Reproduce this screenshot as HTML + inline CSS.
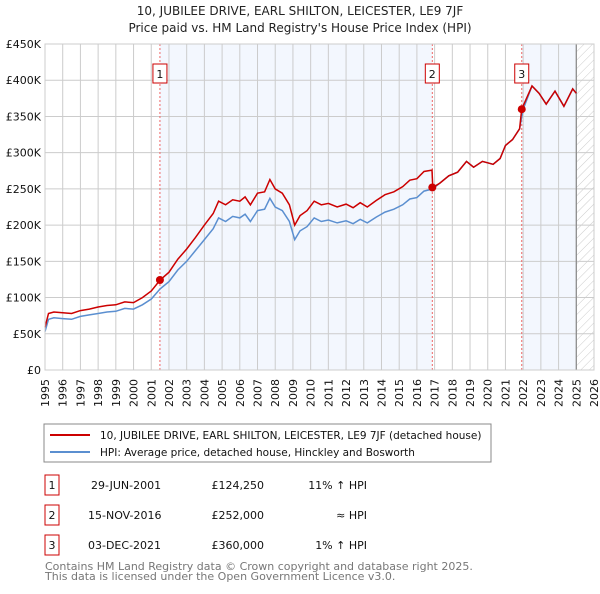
<!DOCTYPE html>
<html><head><meta charset="utf-8"><style>
body{margin:0;background:#fff;font-family:"DejaVu Sans","Liberation Sans",sans-serif;}
svg text{font-family:"DejaVu Sans","Liberation Sans",sans-serif;}
</style></head><body>
<svg id="chart" width="600" height="590" xmlns="http://www.w3.org/2000/svg">
<defs><pattern id="hatch" width="6" height="6" patternUnits="userSpaceOnUse" patternTransform="rotate(45)"><line x1="0" y1="0" x2="0" y2="6" stroke="#ccc" stroke-width="1"/></pattern></defs>
<text x="300" y="15" text-anchor="middle" font-size="12" fill="#222">10, JUBILEE DRIVE, EARL SHILTON, LEICESTER, LE9 7JF</text>
<text x="300" y="32" text-anchor="middle" font-size="12" fill="#222">Price paid vs. HM Land Registry's House Price Index (HPI)</text>
<g id="plot"></g>
<rect x="44" y="424" width="447" height="38" fill="none" stroke="#888"/>
<line x1="50" y1="435" x2="90" y2="435" stroke="#cc0000" stroke-width="2"/>
<text x="100" y="439" font-size="10.5" fill="#111">10, JUBILEE DRIVE, EARL SHILTON, LEICESTER, LE9 7JF (detached house)</text>
<line x1="50" y1="452" x2="90" y2="452" stroke="#5b8fd0" stroke-width="2"/>
<text x="100" y="456" font-size="10.5" fill="#111">HPI: Average price, detached house, Hinckley and Bosworth</text>
<g font-size="11" fill="#111">
<rect x="45" y="475" width="14" height="20" fill="none" stroke="#c00"/><text x="52" y="489" text-anchor="middle">1</text>
<text x="91" y="489">29-JUN-2001</text><text x="264" y="489" text-anchor="end">£124,250</text><text x="367" y="489" text-anchor="end">11% ↑ HPI</text>
<rect x="45" y="505" width="14" height="20" fill="none" stroke="#c00"/><text x="52" y="519" text-anchor="middle">2</text>
<text x="88" y="519">15-NOV-2016</text><text x="264" y="519" text-anchor="end">£252,000</text><text x="367" y="519" text-anchor="end">≈ HPI</text>
<rect x="45" y="535" width="14" height="20" fill="none" stroke="#c00"/><text x="52" y="549" text-anchor="middle">3</text>
<text x="88" y="549">03-DEC-2021</text><text x="264" y="549" text-anchor="end">£360,000</text><text x="367" y="549" text-anchor="end">1% ↑ HPI</text>
</g>
<text x="45" y="570" font-size="11" fill="#777">Contains HM Land Registry data © Crown copyright and database right 2025.</text>
<text x="45" y="580" font-size="11" fill="#777">This data is licensed under the Open Government Licence v3.0.</text>
</svg>
<script>
const hpiYears=[1995.0,1995.2,1995.5,1996.0,1996.5,1997.0,1997.5,1998.0,1998.5,1999.0,1999.5,2000.0,2000.5,2001.0,2001.5,2002.0,2002.5,2003.0,2003.5,2004.0,2004.5,2004.8,2005.2,2005.6,2006.0,2006.3,2006.6,2007.0,2007.4,2007.7,2008.0,2008.4,2008.8,2009.1,2009.4,2009.8,2010.2,2010.6,2011.0,2011.5,2012.0,2012.4,2012.8,2013.2,2013.7,2014.2,2014.7,2015.2,2015.6,2016.0,2016.4,2016.9,2017.3,2017.8,2018.3,2018.8,2019.2,2019.7,2020.0,2020.3,2020.7,2021.0,2021.4,2021.8,2022.0,2022.5,2022.9,2023.3,2023.8,2024.3,2024.8,2025.0];
const hpiValues=[53,70,72,71,70,74,76,78,80,81,85,84,90,98,112,122,138,150,165,180,195,210,205,212,210,215,205,220,222,237,225,220,205,180,192,198,210,205,207,203,206,202,208,203,211,218,222,228,236,238,247,250,258,268,273,288,280,288,286,284,292,310,318,333,360,392,382,367,385,364,388,382];
const priceYears=[1995.0,1995.2,1995.5,1996.0,1996.5,1997.0,1997.5,1998.0,1998.5,1999.0,1999.5,2000.0,2000.5,2001.0,2001.5,2002.0,2002.5,2003.0,2003.5,2004.0,2004.5,2004.8,2005.2,2005.6,2006.0,2006.3,2006.6,2007.0,2007.4,2007.7,2008.0,2008.4,2008.8,2009.1,2009.4,2009.8,2010.2,2010.6,2011.0,2011.5,2012.0,2012.4,2012.8,2013.2,2013.7,2014.2,2014.7,2015.2,2015.6,2016.0,2016.4,2016.85,2016.9,2017.3,2017.8,2018.3,2018.8,2019.2,2019.7,2020.0,2020.3,2020.7,2021.0,2021.4,2021.8,2021.92,2022.5,2022.9,2023.3,2023.8,2024.3,2024.8,2025.0];
const priceValues=[59,78,80,79,78,82,84,87,89,90,94,93,100,109,124.25,135,153,167,183,200,216,233,228,235,233,239,228,244,246,263,250,244,228,200,213,220,233,228,230,225,229,224,231,225,234,242,246,253,262,264,274,276,252,258,268,273,288,280,288,286,284,292,310,318,333,360,392,382,367,385,364,388,382];
const saleLabels=["1","2","3"];
const saleYears=[2001.49,2016.87,2021.92];
const salePrices=[124.25,252,360];
const yTicks=[0,50,100,150,200,250,300,350,400,450];
const yTickLabels=["£0","£50K","£100K","£150K","£200K","£250K","£300K","£350K","£400K","£450K"];
const xTicks=[1995,1996,1997,1998,1999,2000,2001,2002,2003,2004,2005,2006,2007,2008,2009,2010,2011,2012,2013,2014,2015,2016,2017,2018,2019,2020,2021,2022,2023,2024,2025,2026];
const X0=45,X1=594,Y0=370,Y1=44;
const xs=y=>X0+(y-1995)/(2026-1995)*(X1-X0);
const ys=v=>Y0-v/450*(Y0-Y1);
const NS="http://www.w3.org/2000/svg";
const g=document.getElementById('plot');
function mk(t,a){const e=document.createElementNS(NS,t);for(const k in a)e.setAttribute(k,a[k]);g.appendChild(e);return e;}
let e;
e=mk('rect',{x:xs(saleYears[0]),y:Y1,width:xs(saleYears[1])-xs(saleYears[0]),height:Y0-Y1,fill:'#eef3fd',opacity:0.7});


e=mk('rect',{x:xs(saleYears[2]),y:Y1,width:xs(2025)-xs(saleYears[2]),height:Y0-Y1,fill:'#eef3fd',opacity:0.7});


e=mk('rect',{x:xs(2025),y:Y1,width:X1-xs(2025),height:Y0-Y1,fill:'url(#hatch)'});


xTicks.forEach(t=>{
 e=mk('line',{x1:xs(t),x2:xs(t),y1:Y1,y2:Y0,stroke:'#ccc','stroke-width':1});
 
 
 e=mk('text',{x:xs(t)+4,y:Y0+9,'font-size':11,fill:'#111','text-anchor':'end',transform:`rotate(-90 ${xs(t)+4} ${Y0+9})`});
 e.textContent=t;
 
 
});
yTicks.forEach((t,i)=>{
 e=mk('line',{x1:X0,x2:X1,y1:ys(t),y2:ys(t),stroke:'#ccc','stroke-width':1});
 
 
 e=mk('text',{x:X0-4,y:ys(t)+4,'font-size':11,fill:'#111','text-anchor':'end'});
 e.textContent=yTickLabels[i];
 
 
});
e=mk('line',{x1:xs(2025),x2:xs(2025),y1:Y1,y2:Y0,stroke:'#888','stroke-width':1.2});


saleYears.forEach((s,i)=>{
 e=mk('line',{x1:xs(s),x2:xs(s),y1:Y1,y2:Y0,stroke:'#e66','stroke-width':1,'stroke-dasharray':'2,2'});
 
 
 e=mk('rect',{x:xs(s)-7,y:Y1+20,width:14,height:19,fill:'#fff',stroke:'#c00'});
 
 
 e=mk('text',{x:xs(s),y:Y1+34,'font-size':11,fill:'#111','text-anchor':'middle'});
 e.textContent=saleLabels[i];
 
 
});
e=mk('path',{d:hpiYears.map((y,i)=>(i?'L':'M')+xs(y).toFixed(1)+' '+ys(hpiValues[i]).toFixed(1)).join(''),fill:'none',stroke:'#5b8fd0','stroke-width':1.5});


e=mk('path',{d:priceYears.map((y,i)=>(i?'L':'M')+xs(y).toFixed(1)+' '+ys(priceValues[i]).toFixed(1)).join(''),fill:'none',stroke:'#cc0000','stroke-width':1.5});


saleYears.forEach((s,i)=>{
 e=mk('circle',{cx:xs(s),cy:ys(salePrices[i]),r:4,fill:'#cc0000'});
 
 
});
e=mk('rect',{x:X0,y:Y1,width:X1-X0,height:Y0-Y1,fill:'none',stroke:'#ccc'});


</script>
</body></html>
